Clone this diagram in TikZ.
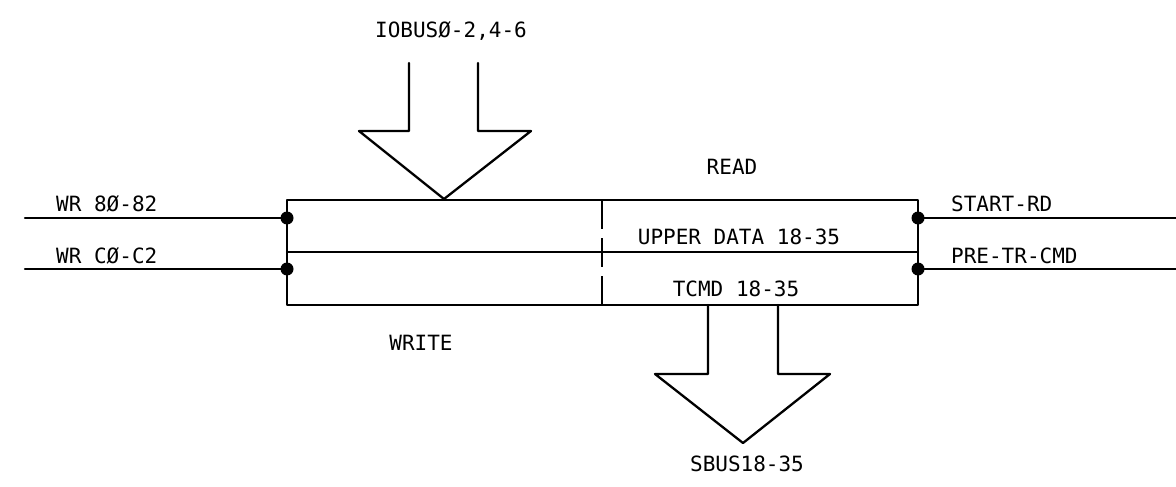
\documentclass[tikz,border=0pt]{standalone}
\usepackage{fontspec}
\newfontfamily\plotfont{DejaVu Sans Mono}
\begin{document}
\begin{tikzpicture}[x=1pt,y=-1pt,line width=2.3pt,line join=round,line cap=round,
  lbl/.style={font=\plotfont\fontsize{21}{21}\selectfont,inner sep=0pt},
  dot/.style={circle,fill,inner sep=0pt,minimum size=13pt},
  bus/.style={line width=2.3pt}]
\useasboundingbox (0,0) rectangle (1176,487);
% box corners
\coordinate (tl) at (287,200);
\coordinate (tr) at (918,200);
\coordinate (bl) at (287,305);
\coordinate (br) at (918,305);
\coordinate (ml) at (287,252);
\coordinate (mr) at (918,252);
\draw (tl) rectangle (br);
\draw (ml) -- (mr);
% dashed divider
\coordinate (dt) at (602,200);
\coordinate (db) at (602,305);
\draw[dash pattern=on 29pt off 9pt,line cap=butt] (dt) -- (db);
% junction dots
\node[dot] (ld1) at (287,218) {};
\node[dot] (ld2) at (287,269) {};
\node[dot] (rd1) at (918,218) {};
\node[dot] (rd2) at (918,269) {};
\coordinate (le1) at (25,218);
\coordinate (le2) at (25,269);
\coordinate (re1) at (1176,218);
\coordinate (re2) at (1176,269);
\draw (le1) -- (ld1.center);
\draw (le2) -- (ld2.center);
\draw (rd1.center) -- (re1);
\draw (rd2.center) -- (re2);
% top bus arrow
\coordinate (ta) at (444,199);
\draw[bus] (409,63) -- (409,131) -- (359,131) -- (ta) -- (531,131) -- (478,131) -- (478,63);
% bottom bus arrow
\coordinate (ba) at (743,443);
\draw[bus] (708,305) -- (708,374) -- (655,374) -- (ba) -- (830,374) -- (778,374) -- (778,305);
% labels
\node[lbl] (iobus) at (451,31) {IOBUSØ-2,4-6};
\node[lbl,anchor=west] (wr8) at (55,204) {WR 8Ø-82};
\node[lbl,anchor=west] (wrc) at (55,256) {WR CØ-C2};
\node[lbl,anchor=west] (srd) at (950,204) {START-RD};
\node[lbl,anchor=west] (ptr) at (950,256) {PRE-TR-CMD};
\node[lbl] (read) at (732,167) {READ};
\node[lbl] (upper) at (739,237) {UPPER DATA 18-35};
\node[lbl] (tcmd) at (736,289) {TCMD 18-35};
\node[lbl] (write) at (421,343) {WRITE};
\node[lbl] (sbus) at (747,464) {SBUS18-35};
\end{tikzpicture}
\end{document}
